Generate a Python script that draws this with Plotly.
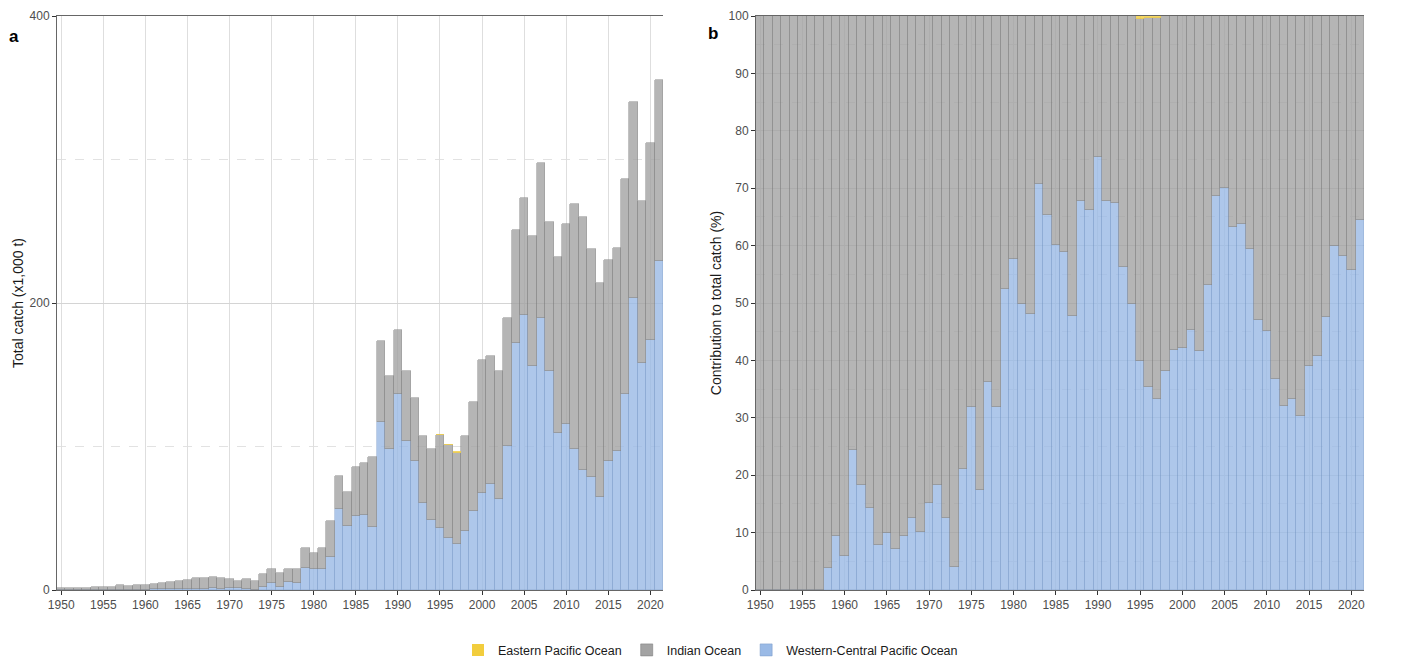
import plotly.graph_objects as go

# catch by ocean, thousand tonnes, 1950-2021
years = list(range(1950, 2022))

wcpo_catch = [0, 0, 0, 0, 0, 0, 0, 0, 0.1, 0.31,
              0.21, 1.03, 0.94, 0.83, 0.51, 0.72, 0.6, 0.79, 1.1, 0.82,
              1.16, 1.18, 0.93, 0.24, 2.35, 4.6, 2.1, 5.4, 4.6, 15.3,
              14.9, 14.5, 23.0, 56.2, 44.6, 51.7, 52.2, 44.2, 117.4, 98.6,
              136.8, 103.5, 90.0, 60.4, 48.8, 43.3, 35.9, 32.0, 41.1, 54.8,
              67.4, 74.0, 63.4, 100.7, 172.4, 191.3, 156.0, 189.6, 152.7, 109.2,
              115.4, 98.6, 83.5, 78.8, 65.1, 89.7, 97.1, 136.5, 203.8, 157.9,
              173.9, 229.4]

indian_catch = [1.2, 1.2, 1.2, 1.6, 1.9, 1.9, 1.9, 3.5, 2.5, 3.0,
                3.3, 3.2, 4.2, 5.0, 6.0, 6.5, 7.8, 7.6, 7.7, 7.3,
                6.5, 5.3, 6.5, 5.8, 8.8, 9.8, 10.0, 9.5, 9.8, 13.9,
                10.9, 14.6, 24.8, 23.2, 23.7, 34.2, 36.5, 48.3, 55.9, 50.3,
                44.4, 49.3, 43.6, 47.1, 49.2, 64.9, 65.2, 63.8, 66.4, 76.4,
                92.7, 89.1, 89.0, 88.9, 78.5, 81.6, 90.9, 108.0, 104.0, 123.1,
                139.9, 170.2, 176.7, 158.6, 149.1, 140.3, 141.0, 150.2, 136.5, 113.4,
                137.8, 126.2]

epo_catch = [0] * 45 + [0.5, 0.4, 0.4] + [0] * 24

oceans = ["Western-Central Pacific Ocean", "Indian Ocean", "Eastern Pacific Ocean"]
colors = {"Western-Central Pacific Ocean": "#9abae6",
          "Indian Ocean": "#a3a3a3",
          "Eastern Pacific Ocean": "#f2cd3d"}
edges = {"Western-Central Pacific Ocean": "#7f9fcc",
         "Indian Ocean": "#808080",
         "Eastern Pacific Ocean": "#f2cd3d"}
edge_w = {"Western-Central Pacific Ocean": 0.6,
          "Indian Ocean": 0.6,
          "Eastern Pacific Ocean": 0}
catch = {"Western-Central Pacific Ocean": wcpo_catch,
         "Indian Ocean": indian_catch,
         "Eastern Pacific Ocean": epo_catch}

totals = [a + b + c for a, b, c in zip(wcpo_catch, indian_catch, epo_catch)]

fig = go.Figure()
for name in oceans:
    share = [v / t * 100 for v, t in zip(catch[name], totals)]
    bar_style = dict(color=colors[name], opacity=0.8,
                     line=dict(color=edges[name], width=edge_w[name]))
    fig.add_trace(go.Bar(x=years, y=catch[name], name=name, marker=bar_style,
                         width=1, xaxis="x", yaxis="y", legendgroup=name))
    fig.add_trace(go.Bar(x=years, y=share, name=name, marker=bar_style,
                         width=1, xaxis="x2", yaxis="y2", legendgroup=name,
                         showlegend=False))

tickfont = dict(family="Liberation Sans, Arial", size=12, color="#4d4d4d")
xstyle = dict(range=[1949.5, 2021.5], tick0=1950, dtick=5, ticks="outside",
              ticklen=4, tickcolor="#333333", tickfont=tickfont, automargin=False,
              showline=True, linecolor="#666666", linewidth=1, mirror=True,
              showgrid=True, gridcolor="#dedede", gridwidth=1, zeroline=False)
ystyle = dict(ticks="outside", ticklen=4, tickcolor="#333333", tickfont=tickfont,
              showline=True, linecolor="#666666", linewidth=1, automargin=False,
              showgrid=True, gridcolor="#d4d4d4", gridwidth=1, zeroline=False)
rstyle = dict(side="right", ticks="outside", ticklen=4, tickcolor="#333333",
              tickfont=tickfont, automargin=False, showgrid=False, zeroline=False)

fig.update_layout(
    width=1402, height=657,
    paper_bgcolor="white", plot_bgcolor="white",
    barmode="stack", bargap=0,
    margin=dict(l=57, r=38, t=16, b=67, autoexpand=False),
    font=dict(family="Liberation Sans, Arial", color="#1a1a1a"),
    xaxis=dict(domain=[0, 0.4637], anchor="y", **xstyle),
    xaxis2=dict(domain=[0.5348, 1], anchor="y2", **xstyle),
    yaxis=dict(domain=[0, 1], anchor="x", range=[0, 400], dtick=200,
               minor=dict(dtick=100, showgrid=True, gridcolor="#e2e2e2", griddash="dash"),
               title=dict(text="Total catch (x1,000 t)", font=dict(size=14), standoff=2),
               **ystyle),
    yaxis2=dict(domain=[0, 1], anchor="x2", range=[0, 100], dtick=10,
                minor=dict(dtick=5, showgrid=True, gridcolor="#e2e2e2", griddash="dash"),
                title=dict(text="Contribution to total catch (%)", font=dict(size=14), standoff=3),
                **ystyle),
    yaxis3=dict(overlaying="y", anchor="x", range=[0, 400], dtick=200, **rstyle),
    yaxis4=dict(overlaying="y2", anchor="x2", range=[0, 100], dtick=10, **rstyle),
    legend=dict(orientation="h", x=0.5, xanchor="center", y=-0.105, yanchor="middle",
                traceorder="reversed", font=dict(size=12.5, color="#1a1a1a")),
    annotations=[
        dict(text="<b>a</b>", x=-0.038, y=0.984, xref="paper", yref="paper",
             showarrow=False, font=dict(size=17, color="black")),
        dict(text="<b>b</b>", x=0.502, y=0.99, xref="paper", yref="paper",
             showarrow=False, font=dict(size=17, color="black")),
    ],
)

fig.write_html("out.html", config={"displayModeBar": False},
               post_script="document.body.style.margin='0';")
